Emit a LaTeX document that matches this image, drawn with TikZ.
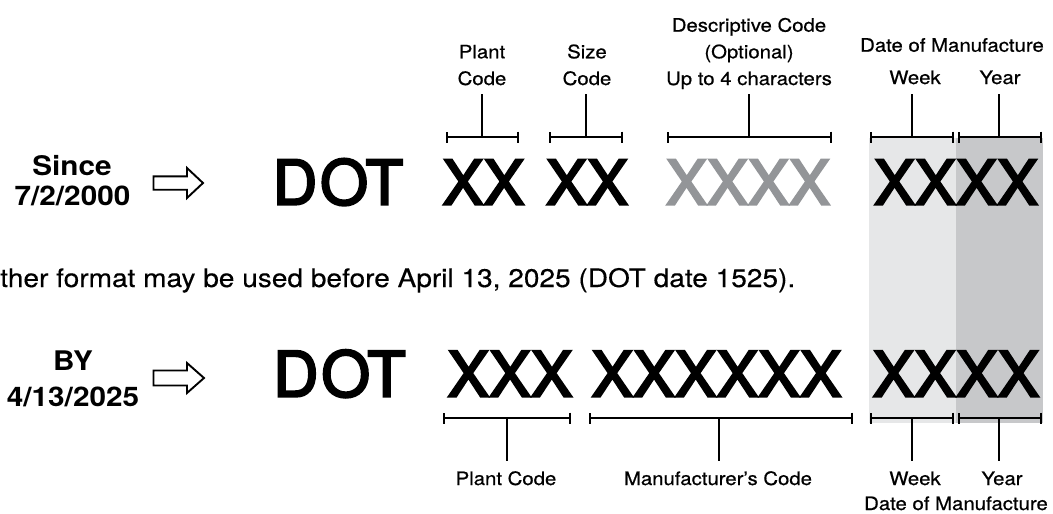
\documentclass[tikz,border=0pt]{standalone}
\usepackage{fontspec}
\setmainfont{TeX Gyre Heros}
\newfontfamily\bigfont[FakeBold=3.6]{TeX Gyre Heros}
\newfontfamily\lblfont[FakeStretch=1.1,FakeBold=0.6]{TeX Gyre Heros}
\newfontfamily\notefont[FakeStretch=1.1,FakeBold=0.3]{TeX Gyre Heros}
\newfontfamily\datefont[FakeStretch=1.1]{TeX Gyre Heros}
\usetikzlibrary{arrows.meta}
\definecolor{lightshade}{HTML}{E6E7E8}
\definecolor{darkshade}{HTML}{C7C8CA}
\definecolor{greyx}{HTML}{939598}
\begin{document}
\begin{tikzpicture}[x=1pt,y=-1pt,
  bigtop/.style={font=\bigfont\fontsize{61.5}{70}\selectfont, inner sep=0pt, anchor=base},
  bigbot/.style={font=\bigfont\fontsize{62.5}{70}\selectfont, inner sep=0pt, anchor=base},
  lbl/.style={font=\lblfont\fontsize{18.5}{22}\selectfont, inner sep=0pt, anchor=base},
  datelbl/.style={font=\datefont\bfseries\fontsize{27}{30}\selectfont, inner sep=0pt, anchor=base},
  note/.style={font=\notefont\fontsize{25.5}{30}\selectfont, inner sep=0pt, anchor=base west},
  bracketline/.style={line width=1.8pt, {Bar[width=11pt]}-{Bar[width=11pt]}},
  stem/.style={line width=1.7pt},
  hollow/.style={line width=1.9pt, line join=miter}
]
\useasboundingbox (0,0) rectangle (1053,514);

% shading behind the date of manufacture
\fill[lightshade] (869,138) rectangle (956,423);
\fill[darkshade] (956,138) rectangle (1043,423);

% left labels
\node[datelbl] (since) at (72,175) {Since};
\node[datelbl] (sinceDate) at (72.5,205) {7/2/2000};
\node[datelbl] (by) at (73,370) {BY};
\node[datelbl] (byDate) at (73,406) {4/13/2025};

% hollow arrows
\coordinate (arr1) at (153.5,183);
\draw[hollow] (arr1) ++(0,-6.7) -- ++(33.5,0) -- ++(0,-8.3) -- ++(16,15) -- ++(-16,15) -- ++(0,-8.3) -- ++(-33.5,0) -- cycle;
\coordinate (arr2) at (153.5,378);
\draw[hollow] (arr2) ++(0,-7.5) -- ++(33.5,0) -- ++(0,-7.5) -- ++(17,15) -- ++(-17,15) -- ++(0,-7.5) -- ++(-33.5,0) -- cycle;

% top code
\node[bigtop] (dot1) at (338,204.5) {D\kern3pt OT};
\node[bigtop] (plant1) at (483.5,204.5) {XX};
\node[bigtop] (size1) at (587,204.5) {XX};
\node[bigtop, text=greyx] (desc1) at (748,204.5) {XXXX};
\node[bigtop] (date1) at (956,204.5) {XXXX};

% top labels
\node[lbl] (plantA) at (482,58.3) {Plant};
\node[lbl] (plantB) at (482,85) {Code};
\node[lbl] (sizeA) at (587,58.3) {Size};
\node[lbl] (sizeB) at (587,85) {Code};
\node[lbl] (descA) at (749,31.7) {Descriptive Code};
\node[lbl] (descB) at (749,58.3) {(Optional)};
\node[lbl] (descC) at (749,85) {Up to 4 characters};
\node[lbl] (dateT) at (952,51.7) {Date of Manufacture};
\node[lbl] (weekT) at (915,84) {Week};
\node[lbl] (yearT) at (1000,84) {Year};

% top brackets
\coordinate (tpl) at (446,137); \coordinate (tpr) at (519,137); \coordinate (tpc) at (482,137); \coordinate (tps) at (482,94);
\coordinate (tsl) at (549,137); \coordinate (tsr) at (623,137); \coordinate (tsc) at (586,137); \coordinate (tss) at (586,94);
\coordinate (tdl) at (667,137); \coordinate (tdr) at (832,137); \coordinate (tdc) at (749,137); \coordinate (tds) at (749,94);
\coordinate (twl) at (870,137); \coordinate (twr) at (954,137); \coordinate (twc) at (912,137); \coordinate (tws) at (912,94);
\coordinate (tyl) at (958,137); \coordinate (tyr) at (1042,137); \coordinate (tyc) at (999,137); \coordinate (tys) at (999,94);
\draw[bracketline] (tpl) -- (tpr); \draw[stem] (tpc) -- (tps);
\draw[bracketline] (tsl) -- (tsr); \draw[stem] (tsc) -- (tss);
\draw[bracketline] (tdl) -- (tdr); \draw[stem] (tdc) -- (tds);
\draw[bracketline] (twl) -- (twr); \draw[stem] (twc) -- (tws);
\draw[bracketline] (tyl) -- (tyr); \draw[stem] (tyc) -- (tys);

% note
\node[note] (note) at (0,287) {ther format may be used before April 13, 2025 (DOT date 1525).};

% bottom code
\node[bigbot] (dot2) at (339.5,396.5) {D\kern3pt OT};
\node[bigbot] (plant2) at (510,396.5) {XXX};
\node[bigbot] (manuf2) at (716.5,396.5) {XXXXXX};
\node[bigbot] (date2) at (956,396.5) {XXXX};

% bottom brackets
\coordinate (bpl) at (443,418); \coordinate (bpr) at (571,418); \coordinate (bpc) at (507,418); \coordinate (bps) at (507,461);
\coordinate (bml) at (589,418); \coordinate (bmr) at (853,418); \coordinate (bmc) at (719,418); \coordinate (bms) at (719,461);
\coordinate (bwl) at (870,418); \coordinate (bwr) at (954,418); \coordinate (bwc) at (912,418); \coordinate (bws) at (912,461);
\coordinate (byl) at (958,418); \coordinate (byr) at (1042,418); \coordinate (byc) at (999,418); \coordinate (bys) at (999,461);
\draw[bracketline] (bpl) -- (bpr); \draw[stem] (bpc) -- (bps);
\draw[bracketline] (bml) -- (bmr); \draw[stem] (bmc) -- (bms);
\draw[bracketline] (bwl) -- (bwr); \draw[stem] (bwc) -- (bws);
\draw[bracketline] (byl) -- (byr); \draw[stem] (byc) -- (bys);

% bottom labels
\node[lbl] (plantL) at (506,485) {Plant Code};
\node[lbl] (manufL) at (718,485) {Manufacturer’s Code};
\node[lbl] (weekL) at (915,485) {Week};
\node[lbl] (yearL) at (1002,485) {Year};
\node[lbl] (dateL) at (956,510) {Date of Manufacture};
\end{tikzpicture}
\end{document}
